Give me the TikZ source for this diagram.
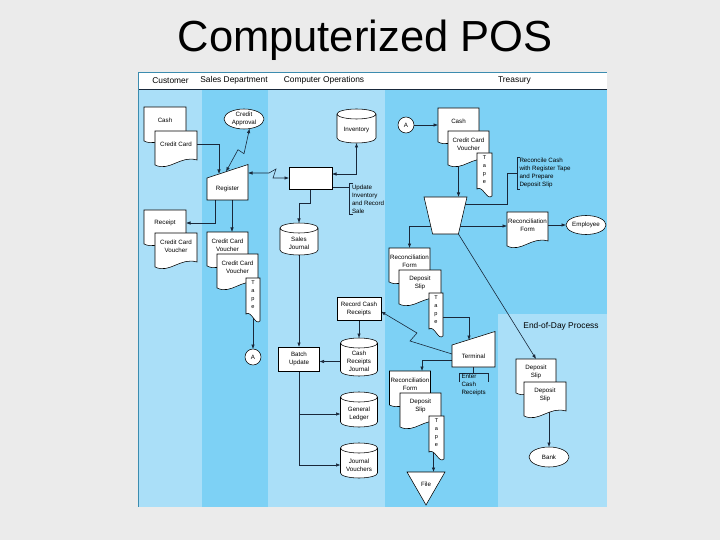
\documentclass[tikz,border=0pt]{standalone}
\usepackage{fontspec}
\setmainfont{Liberation Sans}
\setsansfont{Liberation Sans}
\usetikzlibrary{shapes.geometric,arrows.meta,calc}
\definecolor{bgpage}{RGB}{235,235,235}
\definecolor{laneL}{RGB}{170,223,248}
\definecolor{laneD}{RGB}{125,209,245}
\definecolor{lineC}{RGB}{25,40,58}
\definecolor{frameC}{RGB}{60,140,175}

\newdimen\shXa \newdimen\shYa \newdimen\shXb \newdimen\shYb
\newdimen\shW \newdimen\shH \newdimen\shT \newdimen\shU
\newdimen\shV \newdimen\shR \newdimen\shE \newdimen\shF

\makeatletter
\def\shbox{\southwest \shXa=\pgf@x \shYa=\pgf@y
  \northeast \shXb=\pgf@x \shYb=\pgf@y
  \shW=\shXb \advance\shW by -\shXa
  \shH=\shYb \advance\shH by -\shYa}

% document symbol: wavy bottom below the body
\pgfdeclareshape{docu}{
  \inheritsavedanchors[from=rectangle]
  \inheritanchorborder[from=rectangle]
  \inheritanchor[from=rectangle]{center}
  \inheritanchor[from=rectangle]{north}
  \inheritanchor[from=rectangle]{south}
  \inheritanchor[from=rectangle]{east}
  \inheritanchor[from=rectangle]{west}
  \inheritanchor[from=rectangle]{north east}
  \inheritanchor[from=rectangle]{north west}
  \inheritanchor[from=rectangle]{south east}
  \inheritanchor[from=rectangle]{south west}
  \inheritanchor[from=rectangle]{base}
  \inheritanchor[from=rectangle]{mid}
  \backgroundpath{
    \shbox
    \pgfpathmoveto{\pgfqpoint{\shXa}{\shYb}}
    \pgfpathlineto{\pgfqpoint{\shXb}{\shYb}}
    \shT=\shYa \advance\shT by -3pt
    \pgfpathlineto{\pgfqpoint{\shXb}{\shT}}
    \shU=0.6\shW \advance\shU by \shXa
    \shV=\shYa \advance\shV by 2pt
    \shR=0.35\shW \advance\shR by \shXa
    \shE=\shYa \advance\shE by -15pt
    \shF=\shYa \advance\shF by -8pt
    \pgfpathcurveto{\pgfqpoint{\shU}{\shV}}{\pgfqpoint{\shR}{\shE}}{\pgfqpoint{\shXa}{\shF}}
    \pgfpathclose
  }
}

% tape symbol: mirrored wave
\pgfdeclareshape{tapeshp}{
  \inheritsavedanchors[from=rectangle]
  \inheritanchorborder[from=rectangle]
  \inheritanchor[from=rectangle]{center}
  \inheritanchor[from=rectangle]{north}
  \inheritanchor[from=rectangle]{south}
  \inheritanchor[from=rectangle]{east}
  \inheritanchor[from=rectangle]{west}
  \inheritanchor[from=rectangle]{north east}
  \inheritanchor[from=rectangle]{north west}
  \inheritanchor[from=rectangle]{south east}
  \inheritanchor[from=rectangle]{south west}
  \inheritanchor[from=rectangle]{base}
  \inheritanchor[from=rectangle]{mid}
  \backgroundpath{
    \shbox
    \pgfpathmoveto{\pgfqpoint{\shXa}{\shYb}}
    \pgfpathlineto{\pgfqpoint{\shXb}{\shYb}}
    \shT=\shYa \advance\shT by -9pt
    \pgfpathlineto{\pgfqpoint{\shXb}{\shT}}
    \shU=0.65\shW \advance\shU by \shXa
    \shV=\shYa \advance\shV by -14pt
    \shR=0.4\shW \advance\shR by \shXa
    \shE=\shYa \advance\shE by 2pt
    \shF=\shYa \advance\shF by -2pt
    \pgfpathcurveto{\pgfqpoint{\shU}{\shV}}{\pgfqpoint{\shR}{\shE}}{\pgfqpoint{\shXa}{\shF}}
    \pgfpathclose
  }
}

% manual input: top edge rises to the right above the body
\pgfdeclareshape{manin}{
  \inheritsavedanchors[from=rectangle]
  \inheritanchorborder[from=rectangle]
  \inheritanchor[from=rectangle]{center}
  \inheritanchor[from=rectangle]{north}
  \inheritanchor[from=rectangle]{south}
  \inheritanchor[from=rectangle]{east}
  \inheritanchor[from=rectangle]{west}
  \inheritanchor[from=rectangle]{north east}
  \inheritanchor[from=rectangle]{north west}
  \inheritanchor[from=rectangle]{south east}
  \inheritanchor[from=rectangle]{south west}
  \inheritanchor[from=rectangle]{base}
  \inheritanchor[from=rectangle]{mid}
  \backgroundpath{
    \shbox
    \shT=\shYb \advance\shT by 13.5pt
    \pgfpathmoveto{\pgfqpoint{\shXa}{\shYa}}
    \pgfpathlineto{\pgfqpoint{\shXb}{\shYa}}
    \pgfpathlineto{\pgfqpoint{\shXb}{\shT}}
    \pgfpathlineto{\pgfqpoint{\shXa}{\shYb}}
    \pgfpathclose
  }
}

% manual operation: inverted trapezoid
\pgfdeclareshape{manop}{
  \inheritsavedanchors[from=rectangle]
  \inheritanchorborder[from=rectangle]
  \inheritanchor[from=rectangle]{center}
  \inheritanchor[from=rectangle]{north}
  \inheritanchor[from=rectangle]{south}
  \inheritanchor[from=rectangle]{east}
  \inheritanchor[from=rectangle]{west}
  \inheritanchor[from=rectangle]{north east}
  \inheritanchor[from=rectangle]{north west}
  \inheritanchor[from=rectangle]{south east}
  \inheritanchor[from=rectangle]{south west}
  \inheritanchor[from=rectangle]{base}
  \inheritanchor[from=rectangle]{mid}
  \backgroundpath{
    \shbox
    \shU=0.2\shW \advance\shU by \shXa
    \shR=-0.2\shW \advance\shR by \shXb
    \pgfpathmoveto{\pgfqpoint{\shXa}{\shYb}}
    \pgfpathlineto{\pgfqpoint{\shXb}{\shYb}}
    \pgfpathlineto{\pgfqpoint{\shR}{\shYa}}
    \pgfpathlineto{\pgfqpoint{\shU}{\shYa}}
    \pgfpathclose
  }
}

% off-line file: inverted triangle, apex below the body
\pgfdeclareshape{filetri}{
  \inheritsavedanchors[from=rectangle]
  \inheritanchorborder[from=rectangle]
  \inheritanchor[from=rectangle]{center}
  \inheritanchor[from=rectangle]{north}
  \inheritanchor[from=rectangle]{south}
  \inheritanchor[from=rectangle]{east}
  \inheritanchor[from=rectangle]{west}
  \inheritanchor[from=rectangle]{north east}
  \inheritanchor[from=rectangle]{north west}
  \inheritanchor[from=rectangle]{south east}
  \inheritanchor[from=rectangle]{south west}
  \inheritanchor[from=rectangle]{base}
  \inheritanchor[from=rectangle]{mid}
  \backgroundpath{
    \shbox
    \shU=0.5\shW \advance\shU by \shXa
    \shT=\shYa \advance\shT by -8pt
    \pgfpathmoveto{\pgfqpoint{\shXa}{\shYb}}
    \pgfpathlineto{\pgfqpoint{\shXb}{\shYb}}
    \pgfpathlineto{\pgfqpoint{\shU}{\shT}}
    \pgfpathclose
  }
}

% disk storage cylinder: top cap sits above the body
\pgfdeclareshape{dbcyl}{
  \inheritsavedanchors[from=rectangle]
  \inheritanchorborder[from=rectangle]
  \inheritanchor[from=rectangle]{center}
  \inheritanchor[from=rectangle]{north}
  \inheritanchor[from=rectangle]{south}
  \inheritanchor[from=rectangle]{east}
  \inheritanchor[from=rectangle]{west}
  \inheritanchor[from=rectangle]{north east}
  \inheritanchor[from=rectangle]{north west}
  \inheritanchor[from=rectangle]{south east}
  \inheritanchor[from=rectangle]{south west}
  \inheritanchor[from=rectangle]{base}
  \inheritanchor[from=rectangle]{mid}
  \backgroundpath{
    \shbox
    \shR=0.5\shW
    \shT=\shYa \advance\shT by 5pt
    \shV=\shYb \advance\shV by 4pt
    \pgfpathmoveto{\pgfqpoint{\shXa}{\shV}}
    \pgfpathlineto{\pgfqpoint{\shXa}{\shT}}
    \pgfpatharc{180}{360}{\shR and 5pt}
    \pgfpathlineto{\pgfqpoint{\shXb}{\shV}}
    \pgfpatharc{0}{180}{\shR and 5pt}
    \pgfpatharc{180}{360}{\shR and 5pt}
  }
}
\makeatother

\pgfdeclarelayer{lanes}
\pgfdeclarelayer{edges}
\pgfsetlayers{lanes,edges,main}

\begin{document}
\begin{tikzpicture}[x=1pt,y=-1pt,
  every node/.style={font=\fontsize{6.2}{8}\selectfont, text=black},
  shp/.style={draw=black, fill=white, line width=0.55pt, inner sep=0pt, outer sep=0pt, align=center},
  docn/.style={shp, shape=docu, minimum width=42, minimum height=26},
  tapen/.style={shp, shape=tapeshp, minimum width=14, minimum height=34, font=\fontsize{5.6}{8}\selectfont},
  maninn/.style={shp, shape=manin, minimum width=42, minimum height=22},
  cyl/.style={shp, shape=dbcyl},
  boxn/.style={shp, shape=rectangle},
  ellip/.style={shp, shape=ellipse, minimum width=40, minimum height=20},
  circ/.style={shp, shape=circle, minimum size=16},
  annot/.style={align=left, inner ysep=1pt, inner xsep=2.5pt, outer sep=0pt},
  hdr/.style={font=\fontsize{8.4}{10}\selectfont, inner sep=0pt},
  edge/.style={draw=lineC, line width=0.6pt},
  arr/.style={-{Latex[length=4.5pt,width=3.5pt]}},
  darr/.style={{Latex[length=4.5pt,width=3.5pt]}-{Latex[length=4.5pt,width=3.5pt]}}
]
\useasboundingbox (0,0) rectangle (720,540);

\begin{pgfonlayer}{lanes}
  \fill[bgpage] (0,0) rectangle (720,540);
  \fill[laneL] (138,89) rectangle (202,507);
  \fill[laneD] (202,89) rectangle (268,507);
  \fill[laneL] (268,89) rectangle (385,507);
  \fill[laneD] (385,89) rectangle (607,507);
  \fill[laneL] (498,314) rectangle (607,507);
  \fill[white] (138,72) rectangle (607,89);
  \draw[frameC, line width=0.6pt] (138,72) -- (607,72);
  \draw[lineC, line width=0.8pt] (138,89) -- (607,89);
  \draw[frameC, line width=0.9pt] (138,72) -- (138,507);
\end{pgfonlayer}

% title and headers
\node[font=\fontsize{43.5}{45}\selectfont, anchor=base, inner sep=0pt] (title) at (365,52) {Computerized POS};
\node[hdr] (hcust) at (170.5,80.5) {Customer};
\node[hdr] (hsales) at (234,80.5) {Sales Department};
\node[hdr] (hcomp) at (324,80.5) {Computer Operations};
\node[hdr] (htreas) at (514.5,80.5) {Treasury};
\node[hdr] (heod) at (561,326) {End-of-Day Process};

% Customer
\node[docn] (cashC) at (165,120) {Cash};
\node[docn] (ccC) at (176,144) {Credit Card};
\node[docn] (rcpt) at (165,223) {Receipt};
\node[docn] (ccvC) at (176,246) {Credit Card\\Voucher};

% Sales department
\node[ellip] (appr) at (244,119) {Credit\\Approval};
\node[maninn, minimum width=41] (reg) at (227.5,189) {Register};
\node[docn, minimum width=41] (ccvS1) at (227.5,245) {Credit Card\\Voucher};
\node[docn, minimum width=41] (ccvS2) at (237.5,267) {Credit Card\\Voucher};
\node[tapen] (tapeS) at (253,295) {T\\a\\p\\e};
\node[circ] (aS) at (253,357) {A};

% Computer operations
\node[cyl, minimum width=39, minimum height=25] (inv) at (356.5,130.5) {Inventory};
\node[boxn, minimum width=43, minimum height=22] (box) at (310.5,178) {};
\node[annot, anchor=west] (annU) at (349.5,199) {Update\\Inventory\\and Record\\Sale};
\node[cyl, minimum width=38, minimum height=23] (sj) at (299,243.5) {Sales\\Journal};
\node[boxn, minimum width=41, minimum height=24] (bu) at (299,359) {Batch\\Update};
\node[boxn, minimum width=44, minimum height=23] (crb) at (359,308.5) {Record Cash\\Receipts};
\node[cyl, minimum width=37, minimum height=29] (crj) at (359,361.5) {Cash\\Receipts\\Journal};
\node[cyl, minimum width=37, minimum height=26] (gl) at (359,414) {General\\Ledger};
\node[cyl, minimum width=37, minimum height=26] (jv) at (359,465) {Journal\\Vouchers};

% Treasury
\node[circ] (aT) at (406,125) {A};
\node[docn, minimum width=41] (cashT) at (458.5,121) {Cash};
\node[docn, minimum width=41] (ccvT) at (468.5,144) {Credit Card\\Voucher};
\node[tapen, minimum width=15] (tapeT) at (484.5,170) {T\\a\\p\\e};
\node[shp, shape=manop, minimum width=43, minimum height=37] (rec) at (445.5,215.5) {};
\node[annot, anchor=west] (annR) at (517,173) {Reconcile Cash\\with Register Tape\\and Prepare\\Deposit Slip};
\node[docn, minimum width=41] (rfT) at (527.5,225) {Reconciliation\\Form};
\node[ellip, minimum height=19] (emp) at (586,225) {Employee};
\node[docn, minimum width=41] (rf1) at (409.5,261) {Reconciliation\\Form};
\node[docn] (ds1) at (420,283) {Deposit\\Slip};
\node[tapen] (tape1) at (436,310) {T\\a\\p\\e};
\node[maninn, minimum width=43] (term) at (473.5,356) {Terminal};
\node[annot, anchor=north west] (annE) at (459,373) {Enter\\Cash\\Receipts};
\node[docn, minimum width=41] (rf2) at (410,384) {Reconciliation\\Form};
\node[docn, minimum width=41] (ds2) at (420.5,406) {Deposit\\Slip};
\node[tapen, minimum width=15] (tape2) at (436.5,433) {T\\a\\p\\e};
\node[shp, shape=filetri, minimum width=38, minimum height=25] (file) at (426,484.5) {File};

% End-of-day
\node[docn, minimum width=40] (dsE1) at (536,372) {Deposit\\Slip};
\node[docn] (dsE2) at (545,395) {Deposit\\Slip};
\node[ellip] (bank) at (549,457) {Bank};

\begin{pgfonlayer}{edges}
  % customer / sales
  \draw[edge,arr] (ccC.east) -| ([xshift=-8.5,yshift=4]reg.north);
  \draw[edge,darr] ([xshift=-1.5,yshift=6.3]reg.north) -- ++(12,-22) -- ++(6,4) -- (appr.-60);
  \draw[edge,darr] ([yshift=16]reg.east) -- ++(21,0) -- ++(7,-4) -- ++(-3,9) -- (box.west);
  \draw[edge,arr] ([xshift=-12.5]reg.south) |- (rcpt.east);
  \draw[edge,arr] ([xshift=4.5]reg.south) -- ([xshift=4.5]reg.south |- ccvS1.north);
  \draw[edge,arr] (tapeS.center) -- (aS.north);
  % computer operations
  \draw[edge,darr] ([yshift=4]box.east) -| (inv.south);
  \draw[edge] ([yshift=-9]box.east) -- ([yshift=-9]box.east -| annU.west);
  \draw[edge] ([xshift=3]annU.north west) -- (annU.north west) -- (annU.south west) -- ([xshift=3]annU.south west);
  \draw[edge,arr] (box.south) -- ++(0,14) -| ([yshift=9]sj.north);
  \draw[edge,arr] (sj.south) -- (bu.north);
  \draw[edge,arr] (crj.west) -- (crj.west -| bu.east);
  \draw[edge,arr] (crb.south) -- ([yshift=9]crj.north);
  \draw[edge,arr] (bu.south) |- (jv.west);
  \draw[edge,arr] (bu.south |- gl.west) -- (gl.west);
  % treasury
  \draw[edge,arr] (aT) -- (aT -| cashT.west);
  \draw[edge,arr] ([xshift=-10]ccvT.center) -- ([xshift=-10]ccvT.center |- rec.north);
  \draw[edge] ([xshift=-1.6,yshift=11.5]rec.east) -- ++(41.6,0) |- (annR.west);
  \draw[edge] ([xshift=3]annR.north west) -- (annR.north west) -- (annR.south west) -- ([xshift=3]annR.south west);
  \draw[edge,arr] ([xshift=-6.7,yshift=-10.5]rec.east) -- ([yshift=-10.5]rec.east -| rfT.west);
  \draw[edge,arr] (rfT.east) -- (emp.west);
  \draw[edge,arr] ([xshift=6.7,yshift=-10.5]rec.west) -| (rf1.north);
  \draw[edge,arr] ([xshift=-8.6]rec.south east) -- (dsE1.north);
  \draw[edge,arr] ([yshift=-7]tape1.east) -| ([xshift=-4.5,yshift=5]term.north);
  \draw[edge,arr] ([yshift=2]term.west) -- ++(-42,-13) -- ++(7,-8) -- ([yshift=-3]crb.east);
  \draw[edge,arr] ([yshift=-4]term.west) -| ([xshift=12]rf2.north);
  \draw[edge] (term.south) -- (term.south |- annE.north);
  \draw[edge] ([yshift=-9]annE.north west) -- (annE.north west) -- (annE.north east) -- ([yshift=-9]annE.north east);
  \draw[edge,arr] ([xshift=-3]tape2.center) -- ([xshift=-3]tape2.center |- file.north);
  \draw[edge,arr] ([xshift=4]dsE2.center) -- ([xshift=4]dsE2.center |- bank.north);
\end{pgfonlayer}
\end{tikzpicture}
\end{document}
